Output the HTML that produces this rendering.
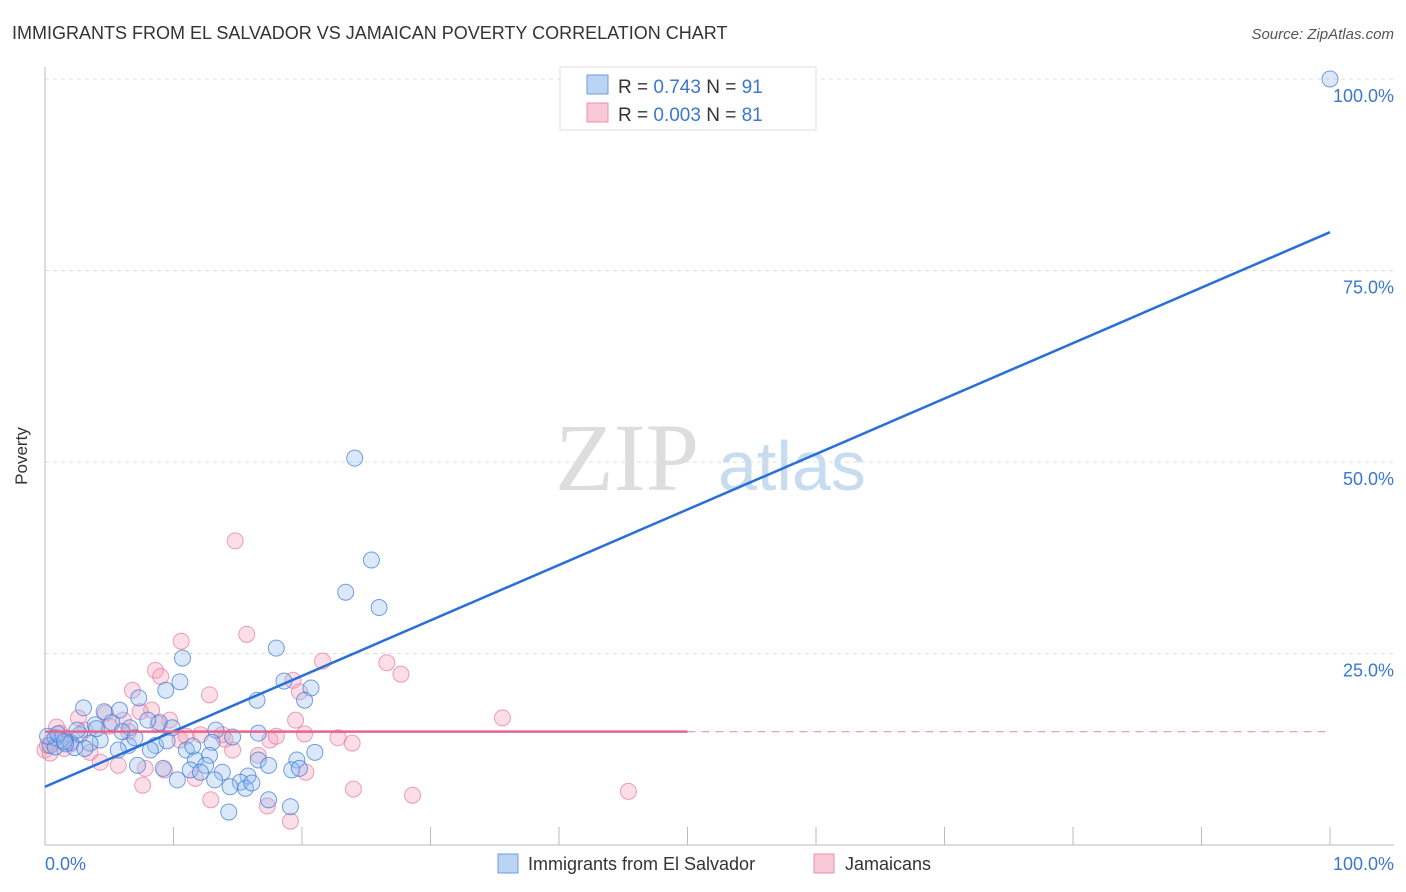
<!DOCTYPE html>
<html><head><meta charset="utf-8"><style>
body{margin:0;background:#fff;font-family:"Liberation Sans",sans-serif}
svg{display:block}
</style></head><body>
<svg width="1406" height="892">
<text x="12" y="39" font-size="18" fill="#333">IMMIGRANTS FROM EL SALVADOR VS JAMAICAN POVERTY CORRELATION CHART</text>
<text x="1394" y="39" font-size="15" fill="#555" font-style="italic" text-anchor="end">Source: ZipAtlas.com</text>
<text x="555" y="490" font-size="96" fill="#ddd" font-family="Liberation Serif,serif">ZIP</text>
<text x="718" y="490" font-size="70" fill="#c8dcf0">atlas</text>
<g id="grid"></g>
<line x1="45" y1="67" x2="45" y2="845" stroke="#bbb"/>
<line x1="45" y1="845" x2="1394" y2="845" stroke="#bbb"/>
<text x="27" y="456" font-size="17" fill="#333" transform="rotate(-90 27 456)" text-anchor="middle">Poverty</text>
<text x="45" y="870" font-size="18" fill="#3a78d0">0.0%</text>
<text x="1394" y="870" font-size="18" fill="#3a78d0" text-anchor="end">100.0%</text>
<g id="pts"></g>
<g id="lines"></g>
<g>
<rect x="560" y="67" width="256" height="63" fill="#fff" stroke="#ddd"/>
<rect x="587" y="75" width="21" height="19" fill="#bcd4f4" stroke="#6a9be0"/>
<rect x="587" y="103" width="21" height="19" fill="#f9c8d6" stroke="#e891aa"/>
<text x="618" y="93" font-size="19" fill="#333">R = <tspan fill="#3a78d0">0.743</tspan>   N = <tspan fill="#3a78d0">91</tspan></text>
<text x="618" y="121" font-size="19" fill="#333">R = <tspan fill="#3a78d0">0.003</tspan>   N = <tspan fill="#3a78d0">81</tspan></text>
</g>
<g>
<rect x="498" y="854" width="20" height="19" fill="#bcd4f4" stroke="#6a9be0"/>
<text x="528" y="870" font-size="18" fill="#333">Immigrants from El Salvador</text>
<rect x="814" y="854" width="20" height="19" fill="#f9c8d6" stroke="#e891aa"/>
<text x="845" y="870" font-size="18" fill="#333">Jamaicans</text>
</g>
</svg>
<script>
const yTicks=[25,50,75,100];
const yTickLabels=["25.0%","50.0%","75.0%","100.0%"];
const xTicks=[0,10,20,30,40,50,60,70,80,90,100];
const blueX=[100,24.1,25.4,23.4,26,18,10.7,10.5,9.4,18.6,20.7,20.2,16.5,3,7.3,4.6,5.8,8.9,8,5.2,3.9,6.6,9.9,13.3,16.6,14.6,13,1.2,2,0.4,0.8,2.7,4.3,6.5,8.6,2.3,3.5,5.7,8.2,11,12.8,11.7,12.5,19.6,21,16.6,17.4,7.2,9.2,11.3,12.1,13.8,15.8,19.2,19.8,13.2,15.2,15.6,10.3,14.4,16.1,17.4,19.1,14.3,0.8,1.6,3.1,0.2,1,2.5,4,6,7,9.5,11.5,1.5];
const blueY=[100,50.5,37.2,33,31,25.7,24.4,21.3,20.2,21.4,20.5,18.9,18.9,17.9,19.2,17.4,17.6,16,16.3,16,15.7,15.3,15.3,15,14.6,14.1,13.4,13.7,13.4,13,14,14.4,13.7,13,13,12.7,13.3,12.4,12.4,12.4,11.7,11.1,10.4,11.1,12.1,11.1,10.4,10.4,10,9.8,9.5,9.5,9,9.8,10,8.5,8.2,7.4,8.5,7.6,8.1,5.9,5,4.3,12.8,13.2,12.6,14.2,14.5,15,15.2,14.8,14,13.6,12.9,13.5];
const pinkX=[14.8,10.6,15.7,21.6,26.6,27.7,8.6,9,12.8,6.8,19.3,19.8,35.6,45.4,28.6,24,23.9,22.8,19.5,17.5,20.2,20.3,19.1,17.3,12.9,7.6,11.7,14.6,16.6,9.7,8.3,4.7,2.6,0.9,0,0.4,3.5,4.3,5.7,7.8,9.3,10.5,12.1,6.1,7.4,1.6,3.1,13.8,0.5,1.2,2,5,6.5,8.8,11,14,18,0.2,1.5];
const pinkY=[39.7,26.6,27.5,24,23.8,22.3,22.8,22,19.6,20.2,21.5,20,16.6,7,6.5,7.3,13.3,14,16.3,13.7,14.5,9.5,3.1,5.1,5.9,7.8,8.7,12.4,11.7,16.3,17.6,17.2,16.6,15.4,12.4,12,12.1,10.8,10.4,10,9.8,13.7,14.4,16.3,17.4,14,15,14.4,13.5,14.6,13.2,15.5,14.8,15.8,14.2,13.8,14.2,13,12.6];
const blueFit=[7.6,80];
const pinkFit=[14.8,14.8];
const X=v=>45+v*12.85, Y=v=>845-v*7.66;
const NS="http://www.w3.org/2000/svg";
function mk(t,a,p){const e=document.createElementNS(NS,t);for(const k in a)e.setAttribute(k,a[k]);p.appendChild(e);return e;}
const grid=document.getElementById('grid');
yTicks.forEach((t,i)=>{
 const l=mk('line',{x1:45,x2:1394,y1:Y(t),y2:Y(t),stroke:'#ddd','stroke-dasharray':'4 4'},grid);
 
 
 const tx=mk('text',{x:1394,y:Y(t)+23,'font-size':18,fill:'#3a78d0','text-anchor':'end'},grid);
 tx.textContent=yTickLabels[i];
 
 
});
xTicks.forEach(t=>{
 const l=mk('line',{x1:X(t),x2:X(t),y1:827,y2:845,stroke:'#bbb'},grid);
 
 
});
const pts=document.getElementById('pts');
pinkX.forEach((v,i)=>{
 const c=mk('circle',{cx:X(v),cy:Y(pinkY[i]),r:8,fill:'rgba(244,160,185,0.35)',stroke:'rgba(230,120,155,0.7)','stroke-width':1},pts);
 
 
});
blueX.forEach((v,i)=>{
 const c=mk('circle',{cx:X(v),cy:Y(blueY[i]),r:8,fill:'rgba(150,190,240,0.35)',stroke:'rgba(60,120,210,0.7)','stroke-width':1},pts);
 
 
});
const ln=document.getElementById('lines');
const b=mk('line',{x1:X(0),y1:Y(blueFit[0]),x2:X(100),y2:Y(blueFit[1]),stroke:'#2a6fd6','stroke-width':2.5},ln);


const p1=mk('line',{x1:X(0),y1:Y(pinkFit[0]),x2:X(50),y2:Y(pinkFit[0]+(pinkFit[1]-pinkFit[0])*0.5),stroke:'#e8648e','stroke-width':2.5},ln);


const p2=mk('line',{x1:X(50),y1:Y(pinkFit[0]+(pinkFit[1]-pinkFit[0])*0.5),x2:X(100),y2:Y(pinkFit[1]),stroke:'#e8a0b5','stroke-width':1.2,'stroke-dasharray':'8 6'},ln);


</script>
</body></html>
